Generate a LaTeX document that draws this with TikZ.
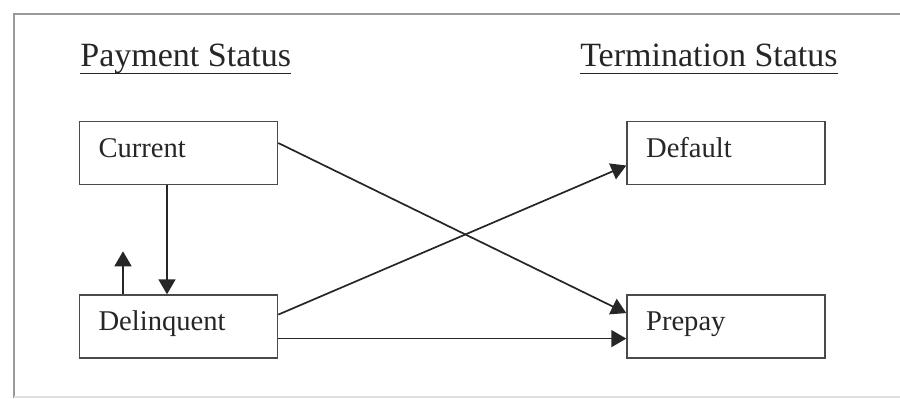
\documentclass[tikz,border=0pt]{standalone}
\usepackage{fontspec}
\setmainfont{Liberation Serif}
\usetikzlibrary{positioning,arrows.meta}
\definecolor{ink}{HTML}{262626}
\definecolor{boxline}{HTML}{4A4A4A}
\tikzset{
    status box/.style = {
        draw = boxline,
        line width = 0.8pt,
        text = ink,
        font = \fontsize{14.3}{17}\selectfont,
        text width = 80pt,
        align = left,
        inner xsep = 9.5pt,
        minimum height = 31.5pt,
        text height = 9pt,
        text depth = 5pt,
        },
    heading/.style = {
        text = ink,
        font = \fontsize{17}{20}\selectfont,
        inner sep = 0pt,
        text depth = 3.5pt,
        },
    underline/.style = {
        draw = ink,
        line width = 0.9pt,
        },
    move/.style = {
        draw = ink,
        line width = 0.85pt,
        -{Triangle[length=7.5pt,width=8.5pt]},
        },
    frame/.style = {
        draw = gray!80,
        line width = 0.8pt,
        },
}
\begin{document}
\begin{tikzpicture}[x=0.5pt, y=-0.5pt, node distance=54.5pt and 174pt]
            \useasboundingbox (0,0) rectangle (900,398);
            \draw[frame] (14,398) |- (900,14);
            \draw[frame, draw=gray!25] (14,397) -- (900,397);

            \node[heading, anchor=base west] (payment) at (80,66) {Payment Status};
            \node[heading, anchor=base east] (termination) at (838,66) {Termination Status};
            \path[underline] (payment.south west) -- (payment.south east);
            \path[underline] (termination.south west) -- (termination.south east);

            \node[status box] (current) at (178.5,153) {Current};
            \node[status box, below=of current] (delinquent) {Delinquent};
            \node[status box, right=of current] (default) {Default};
            \node[status box, below=of default] (prepay) {Prepay};

            \coordinate (self) at ([xshift=-27.75pt,yshift=21.5pt]delinquent.north);

            \path[move] ([xshift=-5.75pt]current.south) -- ([xshift=-5.75pt]delinquent.north);
            \path[move] (delinquent.north -| self) -- (self);
            \path[move] ([yshift=5pt]current.east) -- ([yshift=6.75pt]prepay.west);
            \path[move] ([yshift=6pt]delinquent.east) -- ([yshift=-6.25pt]default.west);
            \path[move] ([yshift=-6pt]delinquent.east) -- ([yshift=-6pt]delinquent.east -| prepay.west);
        \end{tikzpicture}
\end{document}
